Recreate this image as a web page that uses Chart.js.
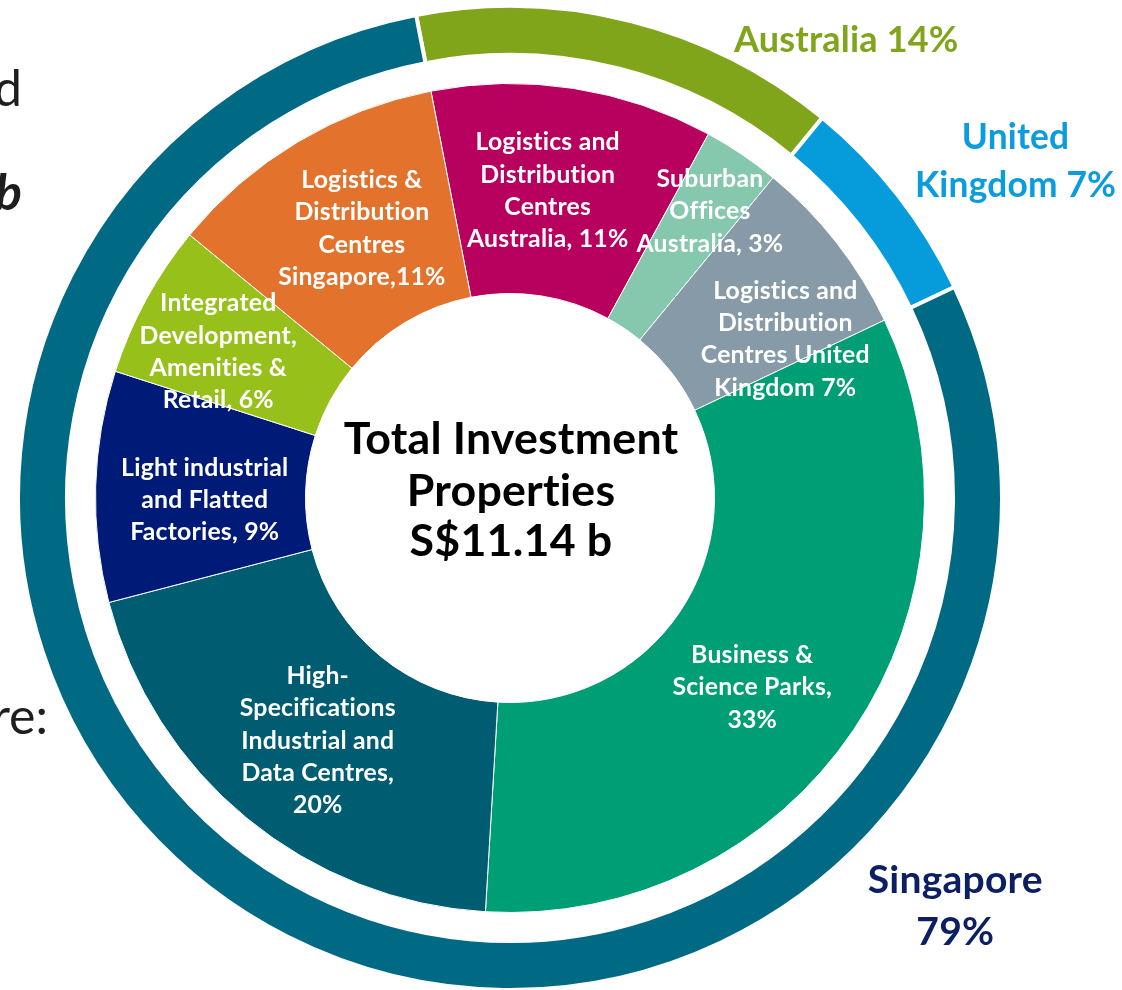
<!DOCTYPE html>
<html>
<head>
<meta charset="utf-8">
<script src="https://cdn.jsdelivr.net/npm/chart.js@4/dist/chart.umd.min.js"></script>
<style>
html,body{margin:0;padding:0;background:#fff;width:1122px;height:990px;overflow:hidden;}
#wrap{position:absolute;left:0;top:0;width:1122px;height:990px;}
.frag{position:absolute;font-family:Lato,sans-serif;color:#1e1e1e;white-space:nowrap;line-height:1;}
</style>
</head>
<body>
<div class="frag" style="right:1100px;top:62px;font-size:50px;">d</div>
<div class="frag" style="right:1100px;top:166px;font-size:50px;font-weight:700;font-style:italic;">b</div>
<div class="frag" style="right:1074px;top:690px;font-size:50px;">re:</div>
<div id="wrap"><canvas id="c" width="1122" height="990"></canvas></div>
<script>
// ---------- DATA ----------
const outerCategories = ['Australia', 'United Kingdom', 'Singapore'];
const outerValues = [14, 7, 79];
const outerLabelLines = [['Australia 14%'], ['United', 'Kingdom 7%'], ['Singapore', '79%']];

const innerCategories = [
  'Logistics and Distribution Centres Australia',
  'Suburban Offices Australia',
  'Logistics and Distribution Centres United Kingdom',
  'Business & Science Parks',
  'High-Specifications Industrial and Data Centres',
  'Light industrial and Flatted Factories',
  'Integrated Development, Amenities & Retail',
  'Logistics & Distribution Centres Singapore'
];
const innerValues = [11, 3, 7, 33, 20, 9, 6, 11];
const innerLabelLines = [
  ['Logistics and', 'Distribution', 'Centres', 'Australia, 11%'],
  ['Suburban', 'Offices', 'Australia, 3%'],
  ['Logistics and', 'Distribution', 'Centres United', 'Kingdom 7%'],
  ['Business &', 'Science Parks,', '33%'],
  ['High-', 'Specifications', 'Industrial and', 'Data Centres,', '20%'],
  ['Light industrial', 'and Flatted', 'Factories, 9%'],
  ['Integrated', 'Development,', 'Amenities &', 'Retail, 6%'],
  ['Logistics &', 'Distribution', 'Centres', 'Singapore,11%']
];
const centerTitleLines = ['Total Investment', 'Properties', 'S$11.14 b'];

// ---------- STYLE ----------
const outerColors = ['#80a51a', '#069cdc', '#006a84'];
const innerColors = ['#b8005e', '#86c8ad', '#869ba7', '#009e74', '#005c70', '#001a78', '#97c11a', '#e2722c'];
const outerTextColors = ['#80a51a', '#0a9cdc', '#0d1f63'];
// label placement: fraction across ring, angular shift (deg, clockwise)
const innerLabelPlace = [
  {frac: 0.50, shift: -1.8}, {frac: 0.69, shift: 0.9}, {frac: 0.54, shift: 8},
  {frac: 0.49, shift: 4}, {frac: 0.50, shift: -1}, {frac: 0.48, shift: -2},
  {frac: 0.58, shift: -2}, {frac: 0.49, shift: 2}
];
// outer label: radius, angle (deg clockwise from top), line height, width of widest line
const outerLabelPlace = [
  {r: 568, deg: 36.3, lh: 48, fitText: 'Australia 14%', fitW: 223},
  {r: 607, deg: 56.4, lh: 48, fitText: 'Kingdom 7%', fitW: 200},
  {r: 604, deg: 132.5, lh: 52, fitText: 'Singapore', fitW: 174}
];
const FAM = 'Lato, "Open Sans", sans-serif';

function fitSize(ctx, text, target, weight, fam) {
  ctx.font = weight + ' 100px ' + fam;
  return 100 * target / ctx.measureText(text).width;
}
function drawLines(ctx, lines, x, y, lh) {
  const top = y - (lines.length - 1) * lh / 2;
  lines.forEach((l, k) => ctx.fillText(l, x, top + k * lh));
}

const labelPlugin = {
  id: 'sliceLabels',
  afterDatasetsDraw(chart) {
    const ctx = chart.ctx;
    const innerMeta = chart.getDatasetMeta(2);
    const cx = innerMeta.data[0].x, cy = innerMeta.data[0].y;
    ctx.save();
    if ('letterSpacing' in ctx) ctx.letterSpacing = '0.2px';
    ctx.textAlign = 'center';
    ctx.textBaseline = 'middle';
    // inner slice labels
    const s1 = fitSize(ctx, 'Light industrial', 165, '700', FAM);
    ctx.font = '700 ' + s1 + 'px ' + FAM;
    ctx.fillStyle = '#ffffff';
    innerMeta.data.forEach((arc, i) => {
      const p = innerLabelPlace[i];
      const a = (arc.startAngle + arc.endAngle) / 2 + p.shift * Math.PI / 180;
      const r = arc.innerRadius + (arc.outerRadius - arc.innerRadius) * p.frac;
      drawLines(ctx, innerLabelLines[i], arc.x + Math.cos(a) * r, arc.y + Math.sin(a) * r, 32.3);
    });
    // outer ring labels
    outerLabelPlace.forEach((p, i) => {
      const s2 = fitSize(ctx, p.fitText, p.fitW, '700', FAM);
      ctx.font = '700 ' + s2 + 'px ' + FAM;
      const a = (p.deg - 90) * Math.PI / 180;
      ctx.fillStyle = outerTextColors[i];
      drawLines(ctx, outerLabelLines[i], cx + Math.cos(a) * p.r, cy + Math.sin(a) * p.r, p.lh);
    });
    // centre title
    const s3 = fitSize(ctx, centerTitleLines[0], 333, '700', FAM);
    ctx.font = '700 ' + s3 + 'px ' + FAM;
    ctx.fillStyle = '#000000';
    ctx.textBaseline = 'alphabetic';
    const base = [-44, 7.5, 58];
    centerTitleLines.forEach((l, k) => ctx.fillText(l, cx + 1, cy + base[k]));
    ctx.restore();
  }
};

new Chart(document.getElementById('c'), {
  type: 'doughnut',
  data: {
    labels: innerCategories,
    datasets: [
      {label: 'Country', data: outerValues, backgroundColor: outerColors,
       borderColor: '#ffffff', borderWidth: 4, weight: 49},
      {label: 'gap', data: [100], backgroundColor: 'rgba(0,0,0,0)', borderWidth: 0, weight: 28.5},
      {label: 'Segment', data: innerValues, backgroundColor: innerColors,
       borderColor: '#ffffff', borderWidth: 1, weight: 210}
    ]
  },
  options: {
    responsive: false,
    animation: false,
    events: [],
    rotation: -11,
    radius: 492,
    cutout: (204.5 / 492 * 100) + '%',
    layout: {padding: {left: 0, right: 102, top: 6, bottom: 0}},
    plugins: {legend: {display: false}, tooltip: {enabled: false}}
  },
  plugins: [labelPlugin]
});
</script>
</body>
</html>
